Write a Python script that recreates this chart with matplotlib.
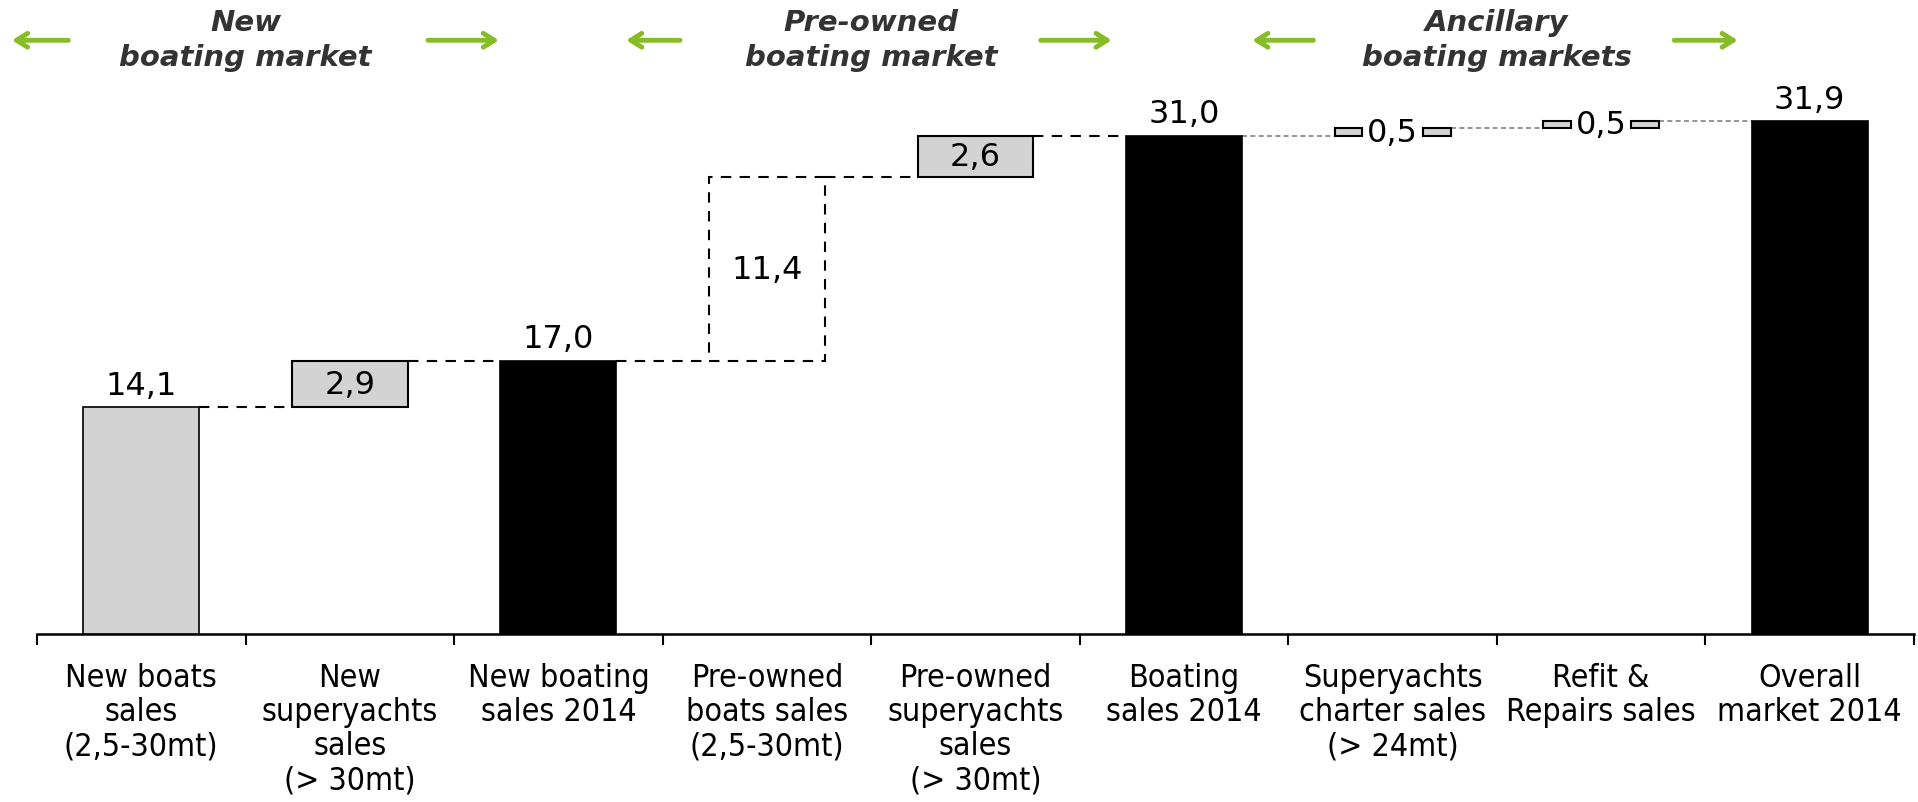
import numpy as np
import matplotlib
matplotlib.use("Agg")
import matplotlib.pyplot as plt
from matplotlib.transforms import blended_transform_factory

# ---------------- data ----------------
categories = [
    "New boats\nsales\n(2,5-30mt)",
    "New\nsuperyachts\nsales\n(> 30mt)",
    "New boating\nsales 2014",
    "Pre-owned\nboats sales\n(2,5-30mt)",
    "Pre-owned\nsuperyachts\nsales\n(> 30mt)",
    "Boating\nsales 2014",
    "Superyachts\ncharter sales\n(> 24mt)",
    "Refit &\nRepairs sales",
    "Overall\nmarket 2014",
]
values = [14.1, 2.9, 17.0, 11.4, 2.6, 31.0, 0.45, 0.45, 31.9]
value_labels = ["14,1", "2,9", "17,0", "11,4", "2,6", "31,0", "0,5", "0,5", "31,9"]
kinds = ["first", "step", "total", "ghost", "step", "total", "small", "small", "total"]

group_titles = ["New\nboating market", "Pre-owned\nboating market", "Ancillary\nboating markets"]
group_centers = [0.5, 3.5, 6.5]
# arrow extents (data x): (left arrow start, end), (right arrow start, end)
group_arrows = [((-0.35, -0.62), (1.375, 1.715)),
                ((2.583, 2.325), (4.313, 4.653)),
                ((5.62, 5.327), (7.35, 7.655))]

GREEN = "#86BC25"
GRAY = "#D3D3D3"
BAR_W = 0.556
GAP_W = 0.29
VAL_FS = 23

fig = plt.figure(figsize=(19.18, 8.03), dpi=100)
ax = fig.add_axes([37 / 1918, 168 / 803, (1914 - 37) / 1918, 635 / 803])
ax.set_xlim(-0.5, 8.5)
ax.set_ylim(0, 39.5)

x = np.arange(len(values))
running = 0.0
bottoms, tops = [], []
for v, k in zip(values, kinds):
    if k in ("first", "total"):
        b = 0.0
        running = v
    else:
        b = running
        running = running + v
    bottoms.append(b)
    tops.append(b + v)

for i, (v, k) in enumerate(zip(values, kinds)):
    b = bottoms[i]
    if k == "first":
        ax.bar(x[i], v, bottom=b, width=BAR_W, color=GRAY, edgecolor="black", linewidth=1.2, zorder=3)
        ax.text(x[i], b + v + 0.4, value_labels[i], ha="center", va="bottom", fontsize=VAL_FS, zorder=5)
    elif k == "total":
        ax.bar(x[i], v, bottom=b, width=BAR_W, color="black", edgecolor="black", linewidth=1.2, zorder=3)
        ax.text(x[i], b + v + 0.4, value_labels[i], ha="center", va="bottom", fontsize=VAL_FS, zorder=5)
    elif k == "step":
        ax.bar(x[i], v, bottom=b, width=BAR_W, color=GRAY, edgecolor="black", linewidth=1.5, zorder=3)
        ax.text(x[i], b + v / 2, value_labels[i], ha="center", va="center", fontsize=VAL_FS, zorder=5)
    elif k == "ghost":
        ax.bar(x[i], v, bottom=b, width=BAR_W, color="none", edgecolor="black", linewidth=1.5,
               linestyle=(0, (5, 4)), zorder=3)
        ax.text(x[i], b + v / 2, value_labels[i], ha="center", va="center", fontsize=VAL_FS, zorder=5)
    elif k == "small":
        piece = (BAR_W - GAP_W) / 2
        ax.bar(x[i] - BAR_W / 2, v, bottom=b, width=piece, align="edge", color=GRAY,
               edgecolor="black", linewidth=1.5, zorder=3)
        ax.bar(x[i] + GAP_W / 2, v, bottom=b, width=piece, align="edge", color=GRAY,
               edgecolor="black", linewidth=1.5, zorder=3)
        ax.text(x[i], b + v / 2, value_labels[i], ha="center", va="center", fontsize=VAL_FS, zorder=5)

# connectors
for i in range(len(values) - 1):
    lvl = tops[i]
    x0 = x[i] + BAR_W / 2
    x1 = x[i + 1] - BAR_W / 2
    if i < 5:
        ax.plot([x0, x1], [lvl, lvl], color="black", lw=1.5, ls=(0, (5, 4)), zorder=2)
    else:
        ax.plot([x0, x1], [lvl, lvl], color="#808080", lw=1.2, ls=(0, (3, 2)), zorder=2)

# axes styling
for s in ["left", "right", "top"]:
    ax.spines[s].set_visible(False)
ax.spines["bottom"].set_linewidth(1.8)
ax.set_yticks([])
ax.set_xticks(np.arange(-0.5, 9, 1))
ax.set_xticklabels([])
ax.tick_params(axis="x", which="major", length=8, width=1.5, direction="out")
ax.set_xticks(x, minor=True)
ax.set_xticklabels(categories, minor=True, fontsize=23, fontstretch="condensed",
                   linespacing=1.13)
ax.tick_params(axis="x", which="minor", length=0, pad=20)

# group headers
trans = blended_transform_factory(ax.transData, ax.transAxes)
for title, c, (la, ra) in zip(group_titles, group_centers, group_arrows):
    ax.text(c, 0.936, title, transform=trans, ha="center", va="center", fontsize=21,
            fontweight="bold", fontstyle="italic", color="#333333", linespacing=1.3)
    for (xs, xe) in (la, ra):
        ax.annotate("", xy=(xe, 0.935), xytext=(xs, 0.935), xycoords=trans, textcoords=trans,
                    arrowprops=dict(arrowstyle="->,head_length=0.8,head_width=0.5", color=GREEN,
                                    lw=3.5, shrinkA=0, shrinkB=0))

fig.savefig("out.png", dpi=100)
